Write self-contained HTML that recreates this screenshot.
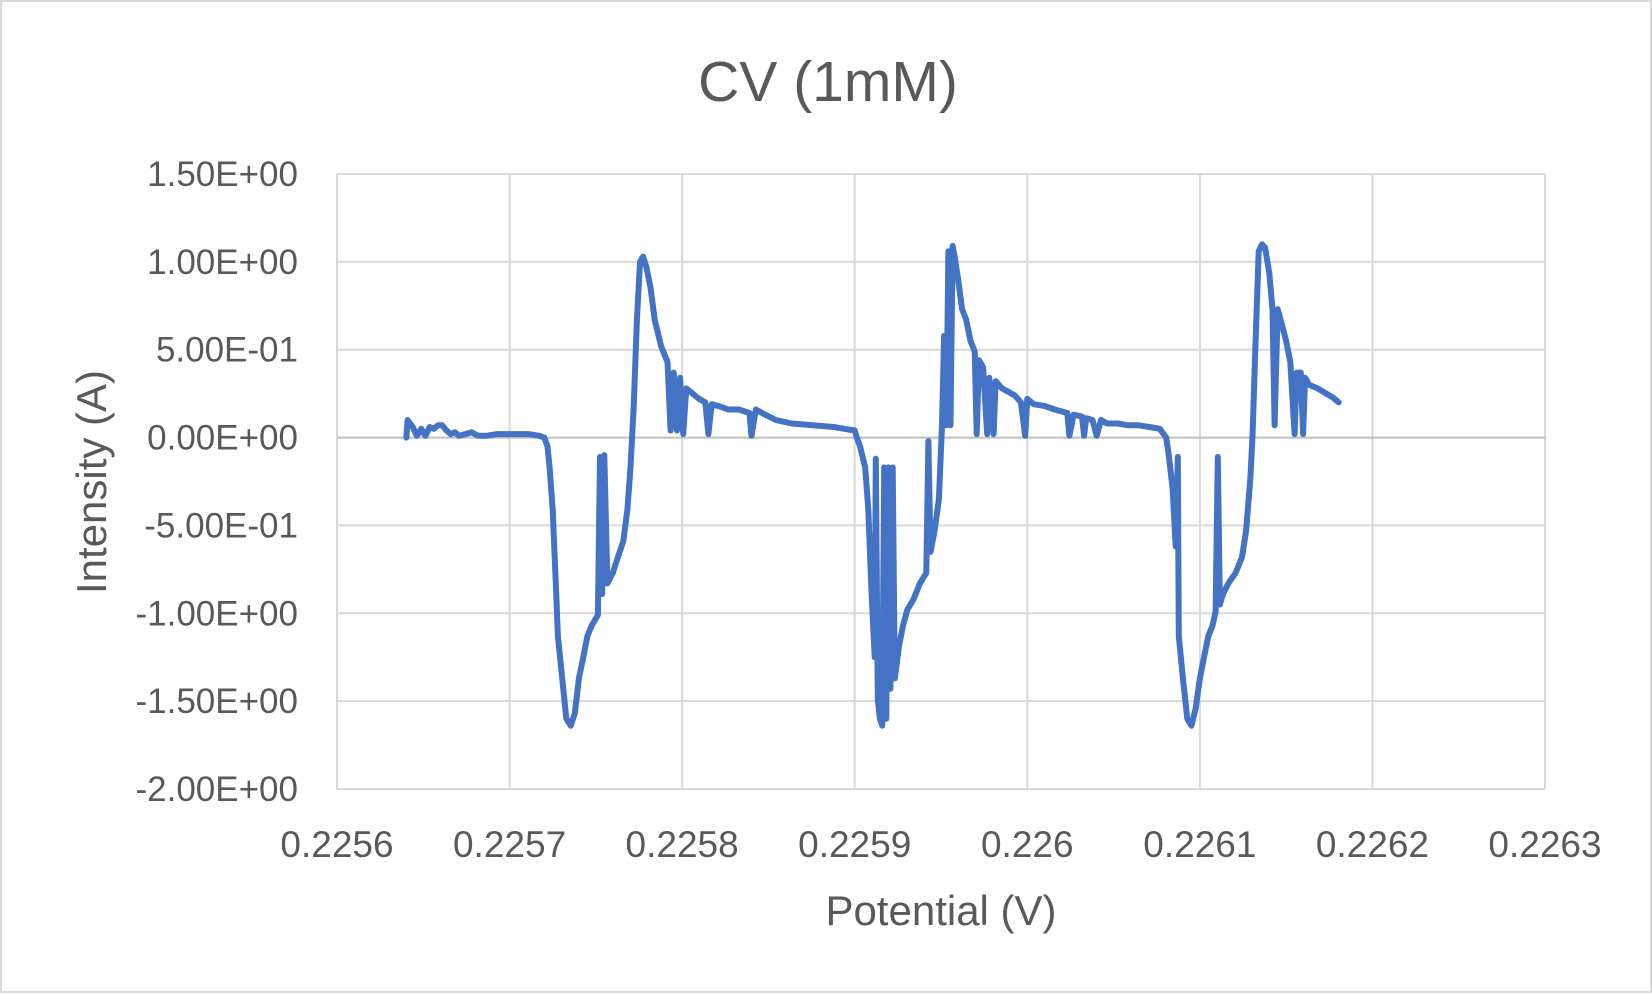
<!DOCTYPE html>
<html><head><meta charset="utf-8"><style>
html,body{margin:0;padding:0;background:#fff;}
#wrap{position:relative;width:1652px;height:993px;box-sizing:border-box;border:2px solid #d9d9d9;background:#fff;}
svg{position:absolute;left:0;top:0;}
text{font-family:"Liberation Sans",sans-serif;fill:#595959;}
</style></head><body>
<div id="wrap">
<svg id="chart" width="1652" height="993"></svg>
</div>
<script>
const xTicks=[0.2256,0.2257,0.2258,0.2259,0.226,0.2261,0.2262,0.2263];
const xTickLabels=["0.2256","0.2257","0.2258","0.2259","0.226","0.2261","0.2262","0.2263"];
const yTicks=[1.5,1.0,0.5,0,-0.5,-1.0,-1.5,-2.0];
const yTickLabels=["1.50E+00","1.00E+00","5.00E-01","0.00E+00","-5.00E-01","-1.00E+00","-1.50E+00","-2.00E+00"];
const potentialUV=[40.2,40.9,43.9,46.3,48.8,51.2,53.7,56.1,58.5,61.0,63.4,65.9,68.3,70.7,74.4,78.0,81.7,86.6,92.7,98.8,104.9,111.0,117.1,120.1,122.0,123.2,125.0,126.8,128.0,130.5,132.9,135.4,137.8,140.2,142.7,145.1,147.6,151.2,152.4,153.7,154.9,156.7,159.8,162.8,165.9,168.3,170.1,172.0,173.8,175.6,177.4,179.3,181.7,184.1,187.8,191.5,193.3,195.1,197.0,198.8,200.6,202.4,206.1,209.8,213.4,215.2,217.1,220.7,226.8,232.9,239.0,240.2,242.7,248.2,254.3,263.4,275.6,287.8,293.9,300.0,301.2,
303.1,306.1,307.9,309.8,311.6,312.2,313.4,314.6,315.9,317.1,318.3,319.5,320.7,322.0,323.2,325.6,328.0,330.5,334.1,337.8,341.5,342.7,343.9,346.3,348.8,350.6,351.8,353.1,354.3,355.5,356.7,357.9,359.8,362.2,364.6,367.1,369.5,370.7,372.0,374.4,376.8,378.0,380.5,381.7,385.4,389.0,392.7,396.3,398.8,400.0,403.7,409.8,415.9,423.2,424.4,426.8,431.7,432.9,434.1,437.8,440.2,442.7,446.3,452.4,458.5,464.6,470.7,476.8,480.5,
481.7,484.2,486.0,487.2,487.8,490.2,492.7,495.1,497.6,500.0,502.4,504.9,507.3,509.1,510.4,511.6,513.4,516.5,520.7,524.4,526.8,529.3,530.5,532.3,534.1,536.0,537.8,540.2,542.1,543.3,545.1,547.6,550.0,552.4,554.9,556.1,558.5,559.8,561.0,563.4,568.3,573.2,576.8,580.5];
const potentialBase=0.2256;
const intensity=[0,0.10,0.06,0.01,0.05,0.01,0.06,0.05,0.07,0.07,0.04,0.02,0.03,0.01,0.02,0.03,0.01,0.01,0.02,0.02,0.02,0.02,0.01,0,-0.05,-0.17,-0.41,-0.83,-1.13,-1.37,-1.60,-1.64,-1.57,-1.37,-1.25,-1.13,-1.07,-1.01,-0.11,-0.89,-0.10,-0.83,-0.77,-0.68,-0.59,-0.41,-0.17,0.19,0.67,1.00,1.03,0.97,0.85,0.67,0.52,0.43,0.04,0.37,0.04,0.34,0.02,0.28,0.25,0.22,0.20,0.02,0.19,0.18,0.16,0.16,0.14,0.01,0.16,0.13,0.10,0.08,0.07,0.06,0.05,0.04,0,
-0.05,-0.17,-0.41,-0.89,-1.25,-0.12,-1.49,-1.60,-1.64,-0.17,-1.60,-0.17,-1.43,-0.17,-1.37,-1.19,-1.07,-0.98,-0.92,-0.83,-0.77,-0.02,-0.65,-0.53,-0.35,0.07,0.58,0.07,1.06,0.07,1.09,1.03,0.91,0.73,0.67,0.55,0.49,0.02,0.44,0.40,0.02,0.34,0.02,0.32,0.28,0.26,0.24,0.20,0.01,0.22,0.19,0.18,0.16,0.14,0.01,0.13,0.12,0.01,0.11,0.10,0.01,0.10,0.08,0.08,0.07,0.07,0.06,0.05,0,
-0.08,-0.29,-0.62,-0.11,-1.13,-1.37,-1.60,-1.64,-1.54,-1.37,-1.25,-1.13,-1.07,-0.99,-0.11,-0.95,-0.89,-0.83,-0.77,-0.68,-0.53,-0.23,0.01,0.55,1.06,1.10,1.08,0.94,0.73,0.07,0.73,0.64,0.55,0.43,0.02,0.37,0.37,0.02,0.34,0.30,0.28,0.25,0.23,0.20];

const NS="http://www.w3.org/2000/svg";
const svg=document.getElementById('chart');
const L=335,R=1543,T=172,B=787;
const xMin=0.2256,xMax=0.2263,yMin=-2,yMax=1.5;
function sx(v){return L+(v-xMin)/(xMax-xMin)*(R-L);}
function sy(v){return B-(v-yMin)/(yMax-yMin)*(B-T);}
function mk(tag,attrs){const e=document.createElementNS(NS,tag);for(const k in attrs)e.setAttribute(k,attrs[k]);svg.appendChild(e);return e;}

let t=mk('text',{x:826,y:99,'text-anchor':'middle','font-size':'57'});
t.textContent='CV (1mM)';



xTicks.forEach((v,i)=>{
  const g=mk('line',{x1:sx(v),x2:sx(v),y1:T,y2:B,stroke:'#d9d9d9','stroke-width':2});
  
  
  const lb=mk('text',{x:sx(v),y:855,'text-anchor':'middle','font-size':'37'});
  lb.textContent=xTickLabels[i];
  
  
});
yTicks.forEach((v,i)=>{
  const g=mk('line',{x1:L,x2:R,y1:sy(v),y2:sy(v),stroke:v===0?'#bfbfbf':'#d9d9d9','stroke-width':2});
  
  
  const lb=mk('text',{x:296,y:sy(v)+12,'text-anchor':'end','font-size':'35'});
  lb.textContent=yTickLabels[i];
  
  
});

let d='';
for(let i=0;i<intensity.length;i++){
  const px=sx(potentialBase+potentialUV[i]*1e-6), py=sy(intensity[i]);
  d+=(i?'L':'M')+px.toFixed(1)+' '+py.toFixed(1);
}
const line=mk('path',{d:d,fill:'none',stroke:'#4472C4','stroke-width':6,'stroke-linejoin':'round','stroke-linecap':'round'});



t=mk('text',{x:939,y:923,'text-anchor':'middle','font-size':'42'});
t.textContent='Potential (V)';


t=mk('text',{x:0,y:0,'text-anchor':'middle','font-size':'42',transform:'translate(104,480) rotate(-90)'});
t.textContent='Intensity (A)';


</script>
</body></html>
